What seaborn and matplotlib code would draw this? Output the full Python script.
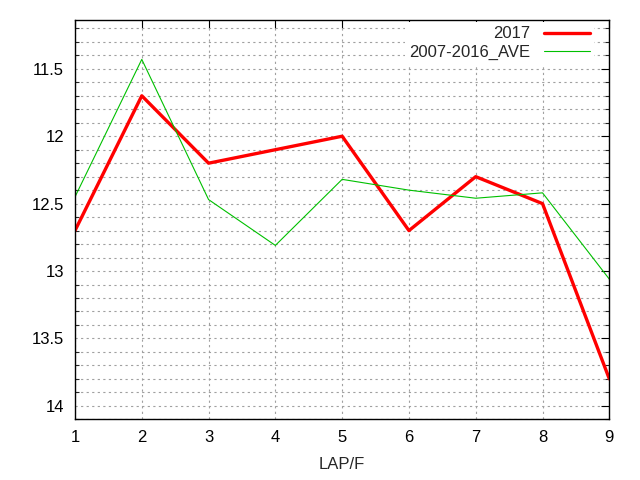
import matplotlib
matplotlib.use("Agg")
import matplotlib.pyplot as plt
import seaborn as sns
import pandas as pd
import numpy as np
from matplotlib.ticker import MultipleLocator
from matplotlib.lines import Line2D

laps = [1, 2, 3, 4, 5, 6, 7, 8, 9]
y2017 = [12.7, 11.7, 12.2, 12.1, 12.0, 12.7, 12.3, 12.5, 13.8]
ave = [12.45, 11.43, 12.47, 12.81, 12.32, 12.40, 12.46, 12.42, 13.06]
series_names = ["2017", "2007-2016_AVE"]

df = pd.DataFrame({
    "LAP/F": laps * 2,
    "value": y2017 + ave,
    "series": [series_names[0]] * len(laps) + [series_names[1]] * len(laps),
})

sns.set_style("white")
plt.rcParams['font.family'] = ['Liberation Sans', 'DejaVu Sans']

fig = plt.figure(figsize=(6.4, 4.8), dpi=100)
ax = fig.add_axes([75/640, 1 - 419.3/480, (609.3 - 75)/640, (419.3 - 20.3)/480])

sns.lineplot(data=df, x="LAP/F", y="value", hue="series", ax=ax,
             palette={"2017": "#ff0000", "2007-2016_AVE": "#00c000"},
             size="series", sizes={"2017": 2.4, "2007-2016_AVE": 0.8},
             legend=False)

ax.set_xlim(1, 9)
ax.set_ylim(14.1, 11.14)
ax.xaxis.set_major_locator(MultipleLocator(1))
ax.yaxis.set_minor_locator(MultipleLocator(0.1))
ax.set_yticks([11.5, 12, 12.5, 13, 13.5, 14])
ax.set_yticklabels(["11.5", "12", "12.5", "13", "13.5", "14"])

ax.grid(True, which="major", axis="x", color="#a0a0a0", linestyle=(0, (2, 3)), linewidth=0.8)
ax.grid(True, which="both", axis="y", color="#a0a0a0", linestyle=(0, (2, 3)), linewidth=0.8)
ax.set_axisbelow(True)

ax.tick_params(axis="both", which="major", direction="in", length=6, width=0.8,
               top=True, right=True, labelsize=12, pad=8, colors="black")
ax.tick_params(axis="y", which="minor", direction="in", length=3, width=0.8,
               left=True, right=True)
for s in ax.spines.values():
    s.set_color("black")
    s.set_linewidth(1)

ax.set_xlabel("LAP/F", fontsize=12, labelpad=8)
ax.set_ylabel("")

handles = [Line2D([0], [0], color="#ff0000", lw=2.4),
           Line2D([0], [0], color="#00c000", lw=0.8)]
leg = ax.legend(handles, series_names, loc="upper right", frameon=True,
                markerfirst=False, fontsize=12, handlelength=2.8,
                bbox_to_anchor=(0.972, 0.995), borderaxespad=0.0,
                borderpad=0.25, labelspacing=0.2, handletextpad=0.8,
                fancybox=False)
leg.get_frame().set_facecolor("white")
leg.get_frame().set_edgecolor("white")
leg.get_frame().set_linewidth(0)
leg.get_frame().set_alpha(1.0)
for t in leg.get_texts():
    t.set_ha("right")

fig.savefig("out.png", dpi=100)
